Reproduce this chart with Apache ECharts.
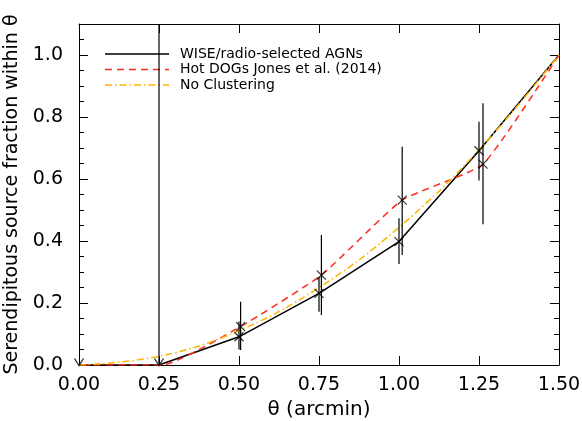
<!DOCTYPE html>
<html><head><meta charset="utf-8">
<script src="https://cdn.jsdelivr.net/npm/echarts@6/dist/echarts.min.js"></script>
<style>html,body{margin:0;padding:0;background:#fff}#c{width:582px;height:421px}</style>
</head><body><div id="c"></div>
<script>
// ---- data ----
var seriesNames = ['WISE/radio-selected AGNs', 'Hot DOGs Jones et al. (2014)', 'No Clustering'];
var wiseX = [0, 0.25, 0.5, 0.75, 1.0, 1.25, 1.5];
var wiseY = [0, 0, 0.091, 0.231, 0.398, 0.691, 1.0];
var wiseLo = [null, 0, 0.05, 0.172, 0.326, 0.595, null];
var wiseHi = [null, 1.1, 0.14, 0.285, 0.473, 0.785, null];
var dogX = [0.01, 0.26, 0.505, 0.7575, 1.01, 1.2625, 1.5];
var dogY = [0, 0, 0.124, 0.290, 0.532, 0.648, 1.0];
var dogLo = [null, null, 0.048, 0.161, 0.355, 0.454, null];
var dogHi = [null, null, 0.204, 0.419, 0.704, 0.844, null];
var noClX = [0, 0.25, 0.5, 0.75, 1.0, 1.25, 1.5];
var noClY = [0, 0.028, 0.111, 0.25, 0.444, 0.694, 1.0];
var xTicks = [0, 0.25, 0.5, 0.75, 1.0, 1.25, 1.5];
var yTicks = [0, 0.2, 0.4, 0.6, 0.8, 1.0];

function pairs(xs, ys) { return xs.map(function (x, i) { return [x, ys[i]]; }); }
function bars(xs, lo, hi) {
  var out = [];
  xs.forEach(function (x, i) { if (lo[i] != null) out.push([x, lo[i], hi[i]]); });
  return out;
}
var crossPath = 'path://M0,0L10,10M10,0L0,10';
var arrowPath = 'path://M0,0L5,8L10,0';

var FONT = 'DejaVu Sans';
var colors = ['#000000', '#ff2a1a', '#ffb400'];
var dashes = [null, [7, 5], [7, 3, 1.5, 3]];
var chart = echarts.init(document.getElementById('c'), null, { renderer: 'canvas' });

var axisCommon = {
  type: 'value',
  axisLine: { show: true, onZero: false, lineStyle: { color: '#000', width: 1 } },
  splitLine: { show: false },
  axisTick: { show: true, inside: true, length: 9, lineStyle: { color: '#000' } }
};

var errRender = function (params, api) {
  var x = api.value(0);
  var p1 = api.coord([x, api.value(1)]);
  var p2 = api.coord([x, api.value(2)]);
  return { type: 'line', shape: { x1: p1[0], y1: p1[1], x2: p2[0], y2: p2[1] },
           style: { stroke: '#000', lineWidth: 1.2 } };
};

// legend drawn as graphic elements
var legendGraphics = [];
seriesNames.forEach(function (n, i) {
  var y = 54 + i * 15.5;
  legendGraphics.push({ type: 'line', shape: { x1: 105, y1: y, x2: 169, y2: y },
    style: { stroke: colors[i], lineWidth: 1.5, lineDash: dashes[i] } });
  legendGraphics.push({ type: 'text', x: 180, y: y,
    style: { text: n, font: '14px "DejaVu Sans"', fill: '#000', textVerticalAlign: 'middle' } });
});

chart.setOption({
  animation: false,
  backgroundColor: '#fff',
  grid: { left: 79, right: 23, top: 24, bottom: 56, containLabel: false, outerBoundsMode: 'none' },
  graphic: legendGraphics,
  xAxis: [
    Object.assign({}, axisCommon, {
      min: 0, max: 1.5, interval: 0.25, position: 'bottom',
      axisLabel: { margin: 11, fontFamily: FONT, fontSize: 19, color: '#000',
        formatter: function (v) { return v.toFixed(2); } },
      name: 'θ (arcmin)', nameLocation: 'middle', nameGap: 33,
      nameTextStyle: { fontFamily: FONT, fontSize: 20, color: '#000' }
    }),
    Object.assign({}, axisCommon, {
      min: 0, max: 1.5, interval: 0.25, position: 'top',
      axisLabel: { show: false }
    })
  ],
  yAxis: [
    Object.assign({}, axisCommon, {
      min: 0, max: 1.1, interval: 0.2, position: 'left',
      minorTick: { show: true, splitNumber: 4, length: 5, lineStyle: { color: '#000' } },
      axisLabel: { margin: 16, fontFamily: FONT, fontSize: 19, color: '#000', showMaxLabel: false,
        formatter: function (v) { return v > 1.05 ? '' : v.toFixed(1); } },
      name: 'Serendipitous source fraction within θ', nameLocation: 'middle', nameGap: 52,
      nameTextStyle: { fontFamily: FONT, fontSize: 19, color: '#000' }
    }),
    Object.assign({}, axisCommon, {
      min: 0, max: 1.1, interval: 0.2, position: 'right',
      minorTick: { show: true, splitNumber: 4, length: 5, lineStyle: { color: '#000' } },
      axisLabel: { show: false }
    })
  ],
  series: [
    { name: seriesNames[0], type: 'line', data: pairs(wiseX, wiseY), symbol: 'none',
      lineStyle: { color: colors[0], width: 1.5 }, z: 3, clip: true },
    { name: seriesNames[1], type: 'line', data: pairs(dogX, dogY), symbol: 'none', smooth: 0.15,
      lineStyle: { color: colors[1], width: 1.5, type: dashes[1] }, z: 4, clip: true },
    { name: seriesNames[2], type: 'line', data: pairs(noClX, noClY), symbol: 'none', smooth: 0.4,
      lineStyle: { color: colors[2], width: 1.5, type: dashes[2] }, z: 5, clip: true },
    { type: 'custom', renderItem: errRender, data: bars(wiseX, wiseLo, wiseHi), z: 6, clip: true, silent: true },
    { type: 'custom', renderItem: errRender, data: bars(dogX, dogLo, dogHi), z: 6, clip: true, silent: true },
    { type: 'scatter', data: pairs(wiseX, wiseY).slice(2, 6), symbol: crossPath, symbolSize: 9,
      itemStyle: { color: 'none', borderColor: '#000', borderWidth: 1.2 }, z: 7, silent: true },
    { type: 'scatter', data: pairs(dogX, dogY).slice(2, 6), symbol: crossPath, symbolSize: 9,
      itemStyle: { color: 'none', borderColor: '#000', borderWidth: 1.2 }, z: 7, silent: true },
    { type: 'scatter', data: pairs(wiseX, wiseY).slice(0, 2), symbol: arrowPath, symbolSize: [9, 7],
      symbolOffset: [0, -3], itemStyle: { color: 'none', borderColor: '#000', borderWidth: 1.2 }, z: 7, silent: true }
  ]
});
</script></body></html>
